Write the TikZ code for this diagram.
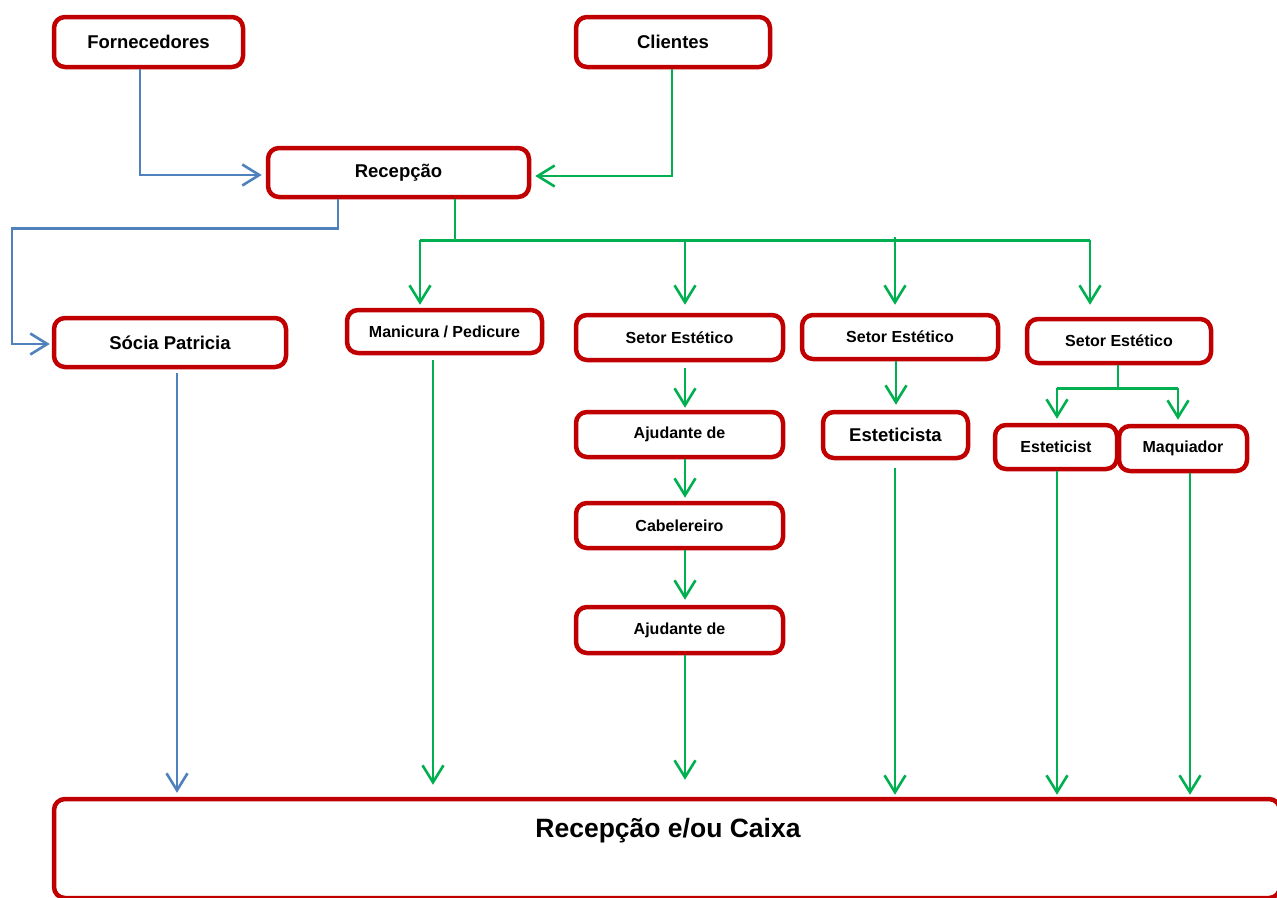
\documentclass[tikz,border=0pt]{standalone}
\usepackage{fontspec}
\setmainfont{Liberation Sans}
\usetikzlibrary{arrows.meta}
\definecolor{boxred}{HTML}{C00000}
\definecolor{flowblue}{HTML}{4F81BD}
\definecolor{flowgreen}{HTML}{00B050}
\tikzset{
  box/.style={draw=boxred, line width=4.5pt, rounded corners=11pt, fill=white,
    inner sep=0pt, align=center, font=\bfseries\fontsize{18.5}{21}\selectfont},
  smalltext/.style={font=\bfseries\fontsize{16}{18}\selectfont},
  bigtext/.style={font=\bfseries\fontsize{26.5}{30}\selectfont},
  tip/.style={-{Straight Barb[length=17pt,width=21pt]}},
  blueline/.style={draw=flowblue, line width=2.6pt},
  greenline/.style={draw=flowgreen, line width=2.6pt},
  bluearrow/.style={blueline, tip},
  greenarrow/.style={greenline, tip},
}
\begin{document}
\begin{tikzpicture}[x=1pt, y=-1pt]
\useasboundingbox (0,0) rectangle (1277,897);
\clip (0,0) rectangle (1277,897);

% boxes
\node[box, minimum width=189, minimum height=50] (forn) at (148.5,42) {Fornecedores};
\node[box, minimum width=194, minimum height=50] (cli) at (673,42) {Clientes};
\node[box, minimum width=261, minimum height=49] (recep) at (398.5,172.5) {Recepção};
\node[box, minimum width=232, minimum height=49] (socia) at (170,342.5) {Sócia Patricia};
\node[box, smalltext, minimum width=195, minimum height=43] (mani) at (444.5,331.5) {Manicura / Pedicure};
\node[box, smalltext, minimum width=207, minimum height=45] (set1) at (679.5,337.5) {Setor Estético};
\node[box, smalltext, minimum width=196, minimum height=44] (set2) at (900,337) {Setor Estético};
\node[box, smalltext, minimum width=184, minimum height=44] (set3) at (1119,341) {Setor Estético};
\node[box, smalltext, minimum width=207, minimum height=45] (ajud1) at (679.5,434.5) {Ajudante de};
\node[box, minimum width=145, minimum height=46] (estc) at (895.5,435) {Esteticista};
\node[box, smalltext, minimum width=122, minimum height=44] (estt) at (1056,447) {Esteticist};
\node[box, smalltext, minimum width=128, minimum height=45] (maq) at (1183,448.5) {Maquiador};
\node[box, smalltext, minimum width=207, minimum height=45] (cab) at (679.5,525.5) {Cabelereiro};
\node[box, smalltext, minimum width=207, minimum height=46] (ajud2) at (679.5,630) {Ajudante de};
\node[box, minimum width=1226, minimum height=99] (caixa) at (667,848.5) {};
\node[bigtext] (caixalabel) at (668,831) {Recepção e/ou Caixa};

% suppliers and clients into reception
\draw[bluearrow, shorten >=4pt] ([xshift=-8.5]forn.south) |- ([yshift=-2.5]recep.west);
\draw[greenarrow, shorten >=4pt] ([xshift=-1]cli.south) |- ([yshift=-3.5]recep.east);

% reception to the partner
\draw[bluearrow, shorten >=2pt] ([xshift=-60.5]recep.south) -- ++(0,29) -- ++(-326,0) |- ([yshift=-1.5]socia.west);

% reception to the service areas
\draw[greenline] ([xshift=56.5]recep.south) -- ++(0,41) coordinate (bus);
\draw[greenline] ([xshift=-24.5]mani.north |- bus) -- ([xshift=-29]set3.north |- bus);
\draw[greenarrow, shorten >=3pt] ([xshift=-24.5]mani.north |- bus) -- ([xshift=-24.5]mani.north);
\draw[greenarrow, shorten >=8pt] ([xshift=5.5]set1.north |- bus) -- ([xshift=5.5]set1.north);
\draw[greenarrow, shorten >=8pt] ([xshift=-5,yshift=3]set2.north |- bus) -- ([xshift=-5]set2.north);
\draw[greenarrow, shorten >=12pt] ([xshift=-29]set3.north |- bus) -- ([xshift=-29]set3.north);

% hair sector chain
\draw[greenarrow, shorten <=6pt, shorten >=2pt] ([xshift=5.5]set1.south) -- ([xshift=5.5]ajud1.north);
\draw[greenarrow, shorten >=3pt] ([xshift=5.5]ajud1.south) -- ([xshift=5.5]cab.north);
\draw[greenarrow, shorten >=5pt] ([xshift=5.5]cab.south) -- ([xshift=5.5]ajud2.north);

% aesthetics sectors
\draw[greenarrow, shorten >=5pt] ([xshift=-4]set2.south) -- ([xshift=0.5]estc.north);
\draw[greenline] ([xshift=-1]set3.south) -- ++(0,23) coordinate (split);
\draw[greenline] ([xshift=1]estt.north |- split) -- ([xshift=-5]maq.north |- split);
\draw[greenarrow, shorten >=4pt] ([xshift=1]estt.north |- split) -- ([xshift=1]estt.north);
\draw[greenarrow, shorten >=4pt] ([xshift=-5]maq.north |- split) -- ([xshift=-5]maq.north);

% everything ends at the front desk
\draw[bluearrow, shorten <=4pt, shorten >=4pt] ([xshift=7]socia.south) -- ([xshift=7]socia.south |- caixa.north);
\draw[greenarrow, shorten <=5pt, shorten >=12pt] ([xshift=-11.5]mani.south) -- ([xshift=-11.5]mani.south |- caixa.north);
\draw[greenarrow, shorten >=17pt] ([xshift=5.5]ajud2.south) -- ([xshift=5.5]ajud2.south |- caixa.north);
\draw[greenarrow, shorten <=8pt, shorten >=2pt] ([xshift=-0.5]estc.south) -- ([xshift=-0.5]estc.south |- caixa.north);
\draw[greenarrow, shorten >=2pt] ([xshift=1]estt.south) -- ([xshift=1]estt.south |- caixa.north);
\draw[greenarrow, shorten >=2pt] ([xshift=7]maq.south) -- ([xshift=7]maq.south |- caixa.north);
\end{tikzpicture}
\end{document}
